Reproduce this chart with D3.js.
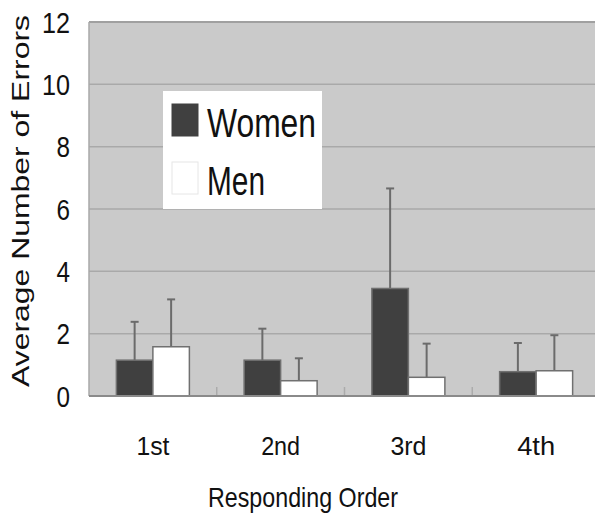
<!DOCTYPE html>
<html>
<head>
<meta charset="utf-8">
<script src="https://cdn.jsdelivr.net/npm/d3@7"></script>
<style>
  body { margin: 0; background: #fff; }
  svg { display: block; }
  text { font-family: "Liberation Sans", Arial, sans-serif; fill: #111; }
</style>
</head>
<body>
<svg id="chart" width="595" height="516"></svg>
<script>
// data
const categories = ['1st', '2nd', '3rd', '4th']
const series = ['Women', 'Men']
const womenMean = [1.15, 1.15, 3.45, 0.78]
const womenSD = [1.23, 1.01, 3.21, 0.92]
const menMean = [1.58, 0.49, 0.60, 0.81]
const menSD = [1.52, 0.72, 1.08, 1.14]
const yTicks = [0, 2, 4, 6, 8, 10, 12]

const colors = { Women: '#404040', Men: '#ffffff' }

const svg = d3.select('#chart')

const plot = { left: 89, right: 600, top: 22, bottom: 396 }

const x = d3.scaleBand()
    .domain(categories)
    .range([plot.left, plot.right])
    .padding(0)

const xs = d3.scaleBand()
    .domain(series)
    .range([0, x.bandwidth()])
    .paddingInner(0)
    .paddingOuter(0.75)

const y = d3.scaleLinear()
    .domain([0, 12])
    .range([plot.bottom, plot.top])

const rows = categories.map((c, i) => ({
    cat: c,
    values: [
        { key: 'Women', mean: womenMean[i], sd: womenSD[i] },
        { key: 'Men', mean: menMean[i], sd: menSD[i] }
    ]
}))

// plot background
svg.append('rect')
    .attr('x', plot.left).attr('y', plot.top)
    .attr('width', plot.right - plot.left).attr('height', plot.bottom - plot.top)
    .attr('fill', '#cacaca')

// gridlines
svg.append('g')
    .selectAll('line')
    .data(yTicks.filter(t => t > 0))
    .join('line')
    .attr('x1', plot.left).attr('x2', plot.right)
    .attr('y1', d => y(d)).attr('y2', d => y(d))
    .attr('stroke', d => d === 12 ? '#a0a0a0' : '#a9a9a9')
    .attr('stroke-width', d => d === 12 ? 2 : 1.5)

// left edge
svg.append('line')
    .attr('x1', plot.left).attr('x2', plot.left)
    .attr('y1', plot.top).attr('y2', plot.bottom)
    .attr('stroke', '#a9a9a9').attr('stroke-width', 1.5)

// category separator ticks
svg.append('g')
    .selectAll('line')
    .data(categories.slice(1))
    .join('line')
    .attr('x1', d => x(d)).attr('x2', d => x(d))
    .attr('y1', plot.bottom).attr('y2', plot.bottom - 9)
    .attr('stroke', '#ababab').attr('stroke-width', 1.5)

/// bars and error bars, one group per category ////////
const groups = svg.append('g')
    .selectAll('g.cat')
    .data(rows)
    .join('g')
    .classed('cat', true)
    .attr('transform', d => `translate(${x(d.cat)},0)`)

groups.selectAll('line.err')
    .data(d => d.values)
    .join('line')
    .classed('err', true)
    .attr('x1', d => xs(d.key) + xs.bandwidth() / 2)
    .attr('x2', d => xs(d.key) + xs.bandwidth() / 2)
    .attr('y1', d => y(d.mean))
    .attr('y2', d => y(d.mean + d.sd))
    .attr('stroke', '#6b6b6b').attr('stroke-width', 2)

groups.selectAll('line.cap')
    .data(d => d.values)
    .join('line')
    .classed('cap', true)
    .attr('x1', d => xs(d.key) + xs.bandwidth() / 2 - 4)
    .attr('x2', d => xs(d.key) + xs.bandwidth() / 2 + 4)
    .attr('y1', d => y(d.mean + d.sd))
    .attr('y2', d => y(d.mean + d.sd))
    .attr('stroke', '#6b6b6b').attr('stroke-width', 2)

groups.selectAll('rect')
    .data(d => d.values)
    .join('rect')
    .attr('x', d => xs(d.key))
    .attr('y', d => y(d.mean))
    .attr('width', xs.bandwidth())
    .attr('height', d => y(0) - y(d.mean))
    .attr('fill', d => colors[d.key])
    .attr('stroke', '#707070').attr('stroke-width', 1.5)

// bottom axis line
svg.append('line')
    .attr('x1', plot.left).attr('x2', plot.right)
    .attr('y1', plot.bottom).attr('y2', plot.bottom)
    .attr('stroke', '#8a8a8a').attr('stroke-width', 2)

// y tick labels
svg.append('g')
    .selectAll('text')
    .data(yTicks)
    .join('text')
    .attr('x', 70)
    .attr('y', d => y(d) + 10.5)
    .attr('text-anchor', 'end')
    .attr('font-size', 29)
    .attr('textLength', d => String(d).length === 1 ? 13.5 : 28)
    .attr('lengthAdjust', 'spacingAndGlyphs')
    .text(d => d)

// x tick labels
const xLabelWidths = [33, 39, 36, 38]
svg.append('g')
    .selectAll('text')
    .data(categories)
    .join('text')
    .attr('x', (d, i) => x(d) + x.bandwidth() / 2 - xLabelWidths[i] / 2)
    .attr('y', 455)
    .attr('font-size', 26.5)
    .attr('textLength', (d, i) => xLabelWidths[i])
    .attr('lengthAdjust', 'spacingAndGlyphs')
    .text(d => d)

// axis titles
svg.append('text')
    .attr('x', 208)
    .attr('y', 507)
    .attr('font-size', 28)
    .attr('textLength', 190)
    .attr('lengthAdjust', 'spacingAndGlyphs')
    .text('Responding Order')

svg.append('text')
    .attr('transform', 'translate(29,387) rotate(-90)')
    .attr('font-size', 23)
    .attr('textLength', 372)
    .attr('lengthAdjust', 'spacingAndGlyphs')
    .text('Average Number of Errors')

// legend
const legend = svg.append('g').attr('transform', 'translate(163,91)')
legend.append('rect')
    .attr('width', 159).attr('height', 118)
    .attr('fill', '#fff')

const legendItems = [
    { key: 'Women', y: 13, w: 109 },
    { key: 'Men', y: 71, w: 58 }
]
legend.selectAll('rect.sw')
    .data(legendItems)
    .join('rect')
    .classed('sw', true)
    .attr('x', 9).attr('y', d => d.y)
    .attr('width', 26).attr('height', 32)
    .attr('fill', d => colors[d.key])
    .attr('stroke', d => d.key === 'Men' ? '#e6e6e6' : '#404040')
    .attr('stroke-width', 1)

legend.selectAll('text')
    .data(legendItems)
    .join('text')
    .attr('x', 44)
    .attr('y', d => d.y + 33)
    .attr('font-size', 40)
    .attr('textLength', d => d.w)
    .attr('lengthAdjust', 'spacingAndGlyphs')
    .text(d => d.key)
</script>
</body>
</html>
